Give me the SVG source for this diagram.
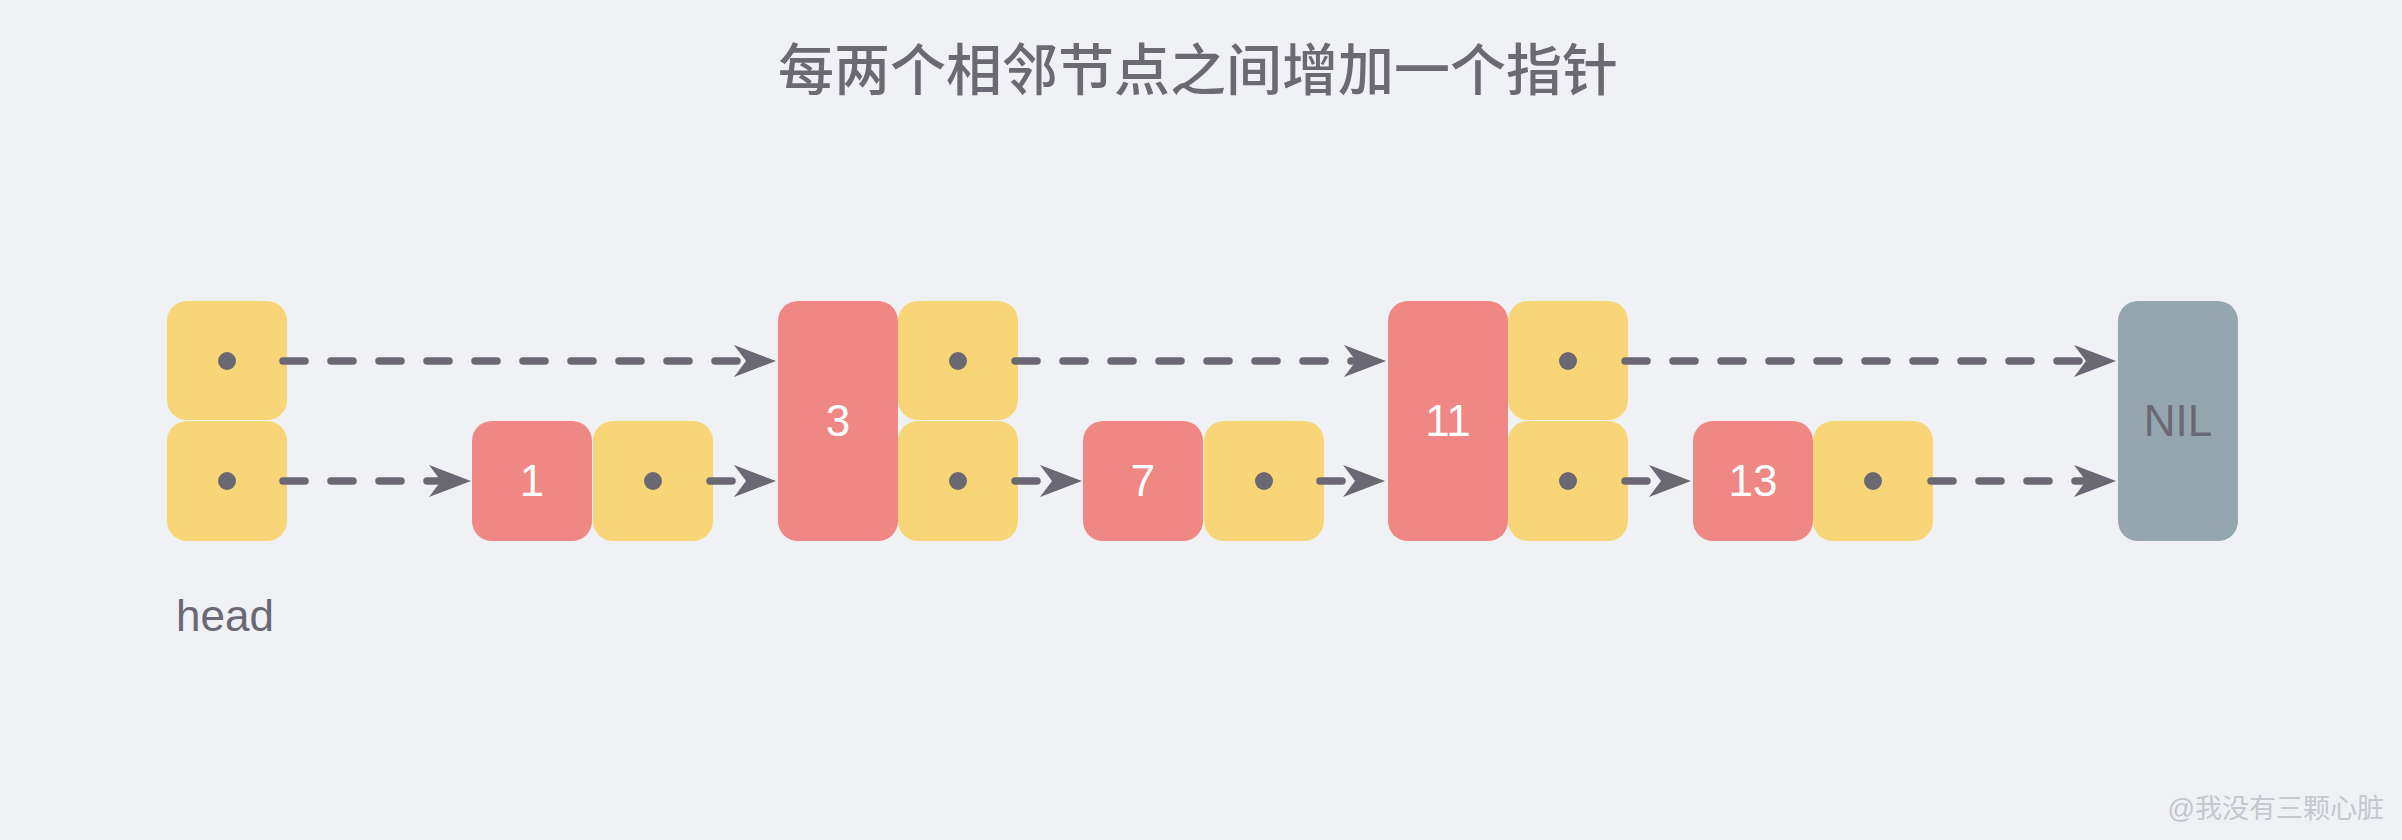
<svg xmlns="http://www.w3.org/2000/svg" width="2402" height="840" viewBox="0 0 2402 840">
  <defs>
    <style>
      .bg { fill: #F0F1F5; }
      .ptr { fill: #F8D678; }
      .val { fill: #EF8784; }
      .nil { fill: #95A6AE; }
      .dot { fill: #6B6873; }
      .num { font-family: "Liberation Sans", Arial, sans-serif; font-size: 44px; fill: #FFFFFF; text-anchor: middle; }
      .niltext { font-family: "Liberation Sans", Arial, sans-serif; font-size: 44px; fill: #6B6873; text-anchor: middle; }
      .label { font-family: "Liberation Sans", Arial, sans-serif; font-size: 44px; fill: #6B6873; }
      .title { font-family: "Noto Sans CJK SC", "Liberation Sans", sans-serif; font-size: 56px; font-weight: 500; fill: #6B6A73; text-anchor: middle; }
      .mark { font-family: "Liberation Sans", "Noto Sans CJK SC", sans-serif; font-size: 27px; fill: #C3C7CE; text-anchor: end; }
      .edge { stroke: #6B6873; stroke-width: 7.5; stroke-linecap: round; stroke-dasharray: 22 26; fill: none; marker-end: url(#arrow); }
    </style>
    <marker id="arrow" markerUnits="userSpaceOnUse" viewBox="0 0 44 34" refX="24" refY="17" markerWidth="44" markerHeight="34" orient="auto">
      <path d="M2,1 L44,17 L2,33 L14,17 Z" fill="#6B6873"/>
    </marker>
  </defs>

  <rect class="bg" x="0" y="0" width="2402" height="840"/>

  <text class="title" x="1198" y="90">每两个相邻节点之间增加一个指针</text>

  <g id="head">
    <rect class="ptr" x="167" y="301" width="120" height="119" rx="20"/>
    <rect class="ptr" x="167" y="421" width="120" height="120" rx="20"/>
    <circle class="dot" cx="227" cy="361" r="9"/>
    <circle class="dot" cx="227" cy="481" r="9"/>
    <text class="label" x="176" y="631">head</text>
  </g>

  <g id="node1">
    <rect class="val" x="472" y="421" width="120" height="120" rx="20"/>
    <text class="num" x="532" y="496">1</text>
    <rect class="ptr" x="593" y="421" width="120" height="120" rx="20"/>
    <circle class="dot" cx="653" cy="481" r="9"/>
  </g>

  <g id="node3">
    <rect class="val" x="778" y="301" width="120" height="240" rx="20"/>
    <text class="num" x="838" y="436">3</text>
    <rect class="ptr" x="898" y="301" width="120" height="119" rx="20"/>
    <rect class="ptr" x="898" y="421" width="120" height="120" rx="20"/>
    <circle class="dot" cx="958" cy="361" r="9"/>
    <circle class="dot" cx="958" cy="481" r="9"/>
  </g>

  <g id="node7">
    <rect class="val" x="1083" y="421" width="120" height="120" rx="20"/>
    <text class="num" x="1143" y="496">7</text>
    <rect class="ptr" x="1204" y="421" width="120" height="120" rx="20"/>
    <circle class="dot" cx="1264" cy="481" r="9"/>
  </g>

  <g id="node11">
    <rect class="val" x="1388" y="301" width="120" height="240" rx="20"/>
    <text class="num" x="1448" y="436">11</text>
    <rect class="ptr" x="1508" y="301" width="120" height="119" rx="20"/>
    <rect class="ptr" x="1508" y="421" width="120" height="120" rx="20"/>
    <circle class="dot" cx="1568" cy="361" r="9"/>
    <circle class="dot" cx="1568" cy="481" r="9"/>
  </g>

  <g id="node13">
    <rect class="val" x="1693" y="421" width="120" height="120" rx="20"/>
    <text class="num" x="1753" y="496">13</text>
    <rect class="ptr" x="1813" y="421" width="120" height="120" rx="20"/>
    <circle class="dot" cx="1873" cy="481" r="9"/>
  </g>

  <g id="nil">
    <rect class="nil" x="2118" y="301" width="120" height="240" rx="20"/>
    <text class="niltext" x="2178" y="436">NIL</text>
  </g>

  <g id="connectors">
    <line class="edge" x1="283" y1="361" x2="756" y2="361"/>
    <line class="edge" x1="1015" y1="361" x2="1366" y2="361"/>
    <line class="edge" x1="1625" y1="361" x2="2096" y2="361"/>
    <line class="edge" x1="283" y1="481" x2="451" y2="481"/>
    <line class="edge" x1="710" y1="481" x2="756" y2="481"/>
    <line class="edge" x1="1015" y1="481" x2="1062" y2="481"/>
    <line class="edge" x1="1320" y1="481" x2="1365" y2="481"/>
    <line class="edge" x1="1625" y1="481" x2="1671" y2="481"/>
    <line class="edge" x1="1931" y1="481" x2="2096" y2="481"/>
  </g>

  <text class="mark" x="2384" y="818">@我没有三颗心脏</text>
</svg>
